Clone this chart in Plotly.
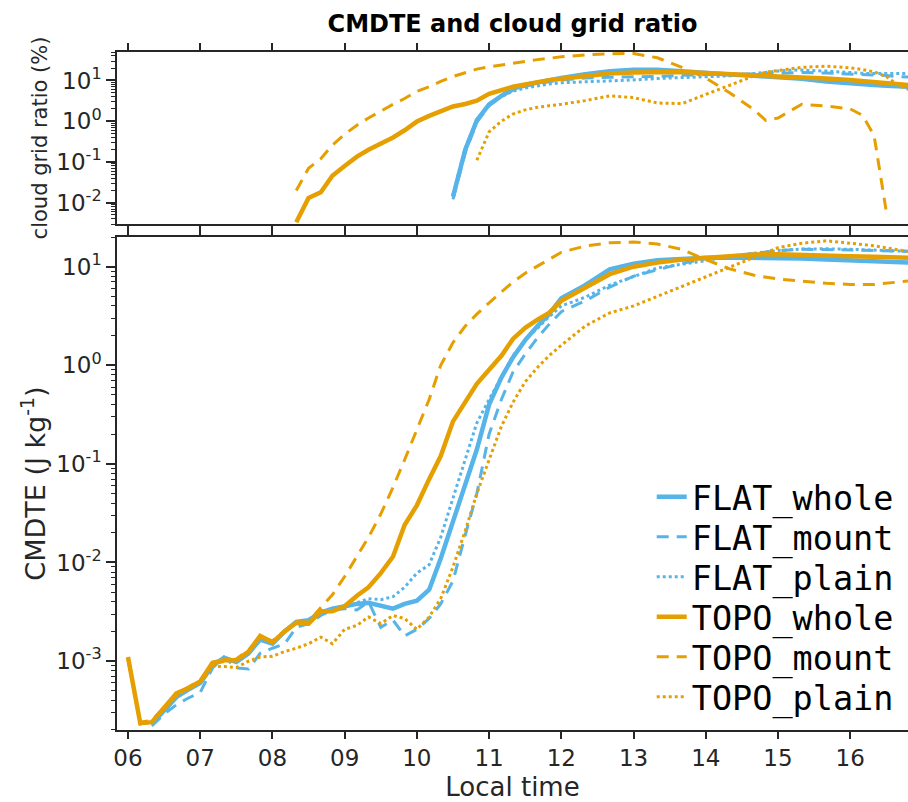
import plotly.graph_objects as go

# ---------------- data ----------------
# bottom panel: CMDTE (J kg-1)
t_bot = [6.0, 6.17, 6.33, 6.5, 6.67, 6.83, 7.0, 7.17, 7.33, 7.5, 7.67, 7.83, 8.0, 8.17, 8.33, 8.5,
         8.67, 8.83, 9.0, 9.17, 9.33, 9.5, 9.67, 9.83, 10.0, 10.17, 10.33, 10.5, 10.67, 10.83, 11.0,
         11.17, 11.33, 11.5, 11.67, 11.83, 12.0, 12.33, 12.67, 13.0, 13.33, 13.67, 14.0, 14.33, 14.67,
         15.0, 15.33, 15.67, 16.0, 16.33, 16.67, 17.0]

cmdte_flat_whole = [None, None, 2.3e-4, 3.1e-4, 4.3e-4, 5.1e-4, 6.0e-4, 9.0e-4, 1.08e-3, 9.8e-4, 1.2e-3, 1.65e-3,
                    1.5e-3, 2.0e-3, 2.5e-3, 2.6e-3, 3.1e-3, 3.4e-3, 3.6e-3, 3.8e-3, 3.9e-3, 3.6e-3, 3.4e-3, 3.8e-3,
                    4.1e-3, 5.3e-3, 0.011, 0.026, 0.062, 0.14, 0.4, 0.75, 1.2, 1.8, 2.5, 3.3, 4.8, 6.5, 9.4,
                    10.7, 11.6, 12.1, 12.3, 12.4, 12.4, 12.3, 12.1, 11.8, 11.5, 11.3, 11.1, 10.9]
cmdte_flat_mount = [None, None, 2.2e-4, 2.9e-4, 3.6e-4, 4.2e-4, 4.8e-4, 8.5e-4, 1.1e-3, 8.5e-4, 8.3e-4, 1.2e-3,
                    1.35e-3, 1.5e-3, 2.2e-3, 2.4e-3, 2.9e-3, 3.3e-3, 3.4e-3, 3.3e-3, 4.0e-3, 2.2e-3, 2.6e-3, 1.8e-3,
                    2.1e-3, 2.7e-3, 3.8e-3, 6.5e-3, 0.019, 0.05, 0.2, 0.45, 0.85, 1.3, 1.9, 2.6, 3.5, 4.5, 6.2,
                    8.0, 9.3, 10.8, 12.0, 12.8, 13.8, 14.5, 15.0, 15.0, 14.8, 14.6, 14.4, 14.2]
cmdte_flat_plain = [None, None, 2.4e-4, 3.3e-4, 4.5e-4, 5.4e-4, 6.2e-4, 9.2e-4, 1.05e-3, 1.0e-3, 1.25e-3, 1.7e-3,
                    1.6e-3, 2.0e-3, 2.45e-3, 2.5e-3, 3.2e-3, 3.3e-3, 3.5e-3, 3.9e-3, 4.3e-3, 4.2e-3, 4.5e-3, 5.6e-3,
                    7.8e-3, 9.5e-3, 0.018, 0.045, 0.11, 0.26, 0.45, 0.75, 1.25, 1.8, 2.4, 3.1, 4.0, 4.9, 6.5,
                    8.0, 9.7, 10.6, 11.5, 12.8, 13.8, 14.6, 15.1, 15.2, 15.0, 14.8, 14.5, 14.2]
cmdte_topo_whole = [1.1e-3, 2.35e-4, 2.4e-4, 3.3e-4, 4.7e-4, 5.3e-4, 6.2e-4, 9.6e-4, 1.02e-3, 1.02e-3, 1.25e-3, 1.8e-3,
                    1.55e-3, 2.0e-3, 2.45e-3, 2.4e-3, 3.2e-3, 3.2e-3, 3.6e-3, 4.6e-3, 5.6e-3, 7.8e-3, 0.0115, 0.024,
                    0.038, 0.07, 0.12, 0.27, 0.43, 0.65, 0.9, 1.25, 1.85, 2.4, 2.9, 3.4, 4.5, 6.2, 8.4,
                    10.0, 11.0, 11.8, 12.3, 12.9, 13.3, 13.4, 13.3, 13.0, 12.8, 12.6, 12.4, 12.2]
cmdte_topo_mount = [1.05e-3, 2.4e-4, 2.5e-4, 3.4e-4, 4.6e-4, 5.4e-4, 6.4e-4, 9.4e-4, 1.0e-3, 1.05e-3, 1.3e-3, 1.75e-3,
                    1.6e-3, 2.05e-3, 2.5e-3, 2.5e-3, 3.5e-3, 4.7e-3, 7.2e-3, 0.0115, 0.018, 0.031, 0.058, 0.11,
                    0.22, 0.45, 1.0, 1.7, 2.5, 3.3, 4.3, 5.5, 7.0, 8.6, 10.2, 12.0, 14.0, 16.2, 17.5,
                    17.8, 17.0, 15.0, 11.8, 9.5, 8.2, 7.5, 7.1, 6.8, 6.6, 6.6, 7.0, 7.4]
cmdte_topo_plain = [1.08e-3, 2.3e-4, 2.4e-4, 3.2e-4, 4.4e-4, 5.2e-4, 6.0e-4, 8.8e-4, 8.8e-4, 8.6e-4, 1.0e-3, 1.1e-3,
                    1.12e-3, 1.25e-3, 1.35e-3, 1.5e-3, 1.75e-3, 1.5e-3, 2.1e-3, 2.3e-3, 2.8e-3, 2.4e-3, 2.9e-3, 2.7e-3,
                    2.1e-3, 2.8e-3, 4.3e-3, 9.0e-3, 0.021, 0.05, 0.11, 0.24, 0.42, 0.68, 0.95, 1.25, 1.6, 2.5, 3.4,
                    4.0, 5.0, 6.3, 7.8, 9.8, 12.5, 15.6, 17.3, 18.3, 17.3, 16.3, 14.8, 13.5]

# top panel: cloud grid ratio (%)
t_top = [8.33, 8.5, 8.67, 8.83, 9.0, 9.17, 9.33, 9.5, 9.67, 9.83, 10.0, 10.17, 10.33, 10.5, 10.67, 10.83,
         11.0, 11.17, 11.33, 11.5, 11.67, 11.83, 12.0, 12.33, 12.67, 13.0, 13.33, 13.67, 14.0, 14.33,
         14.67, 14.83, 15.0, 15.17, 15.33, 15.67, 16.0, 16.17, 16.33, 16.5, 16.67, 17.0]

cgr_flat_whole = [None] * 13 + [0.014, 0.2, 1.05, 2.6, 4.2, 6.2, 7.8, 9.0, 10.3, 11.5, 14.3, 16.8, 18.3, 18.3,
                                16.8, 15.0, 14.0, 13.0, 12.5, 12.0, 11.5, 11.0, 9.4, 8.3, 8.0, 7.7, 7.4, 7.2, 6.8]
cgr_flat_mount = [None] * 13 + [0.012, 0.17, 0.95, 2.4, 4.0, 5.8, 7.2, 8.3, 9.3, 10.2, 11.5, 12.0, 12.2, 12.6,
                                13.4, 14.0, 14.2, 14.5, 14.8, 15.2, 15.5, 15.6, 15.2, 14.5, 14.0, 13.8, 13.2, 12.5, 11.5]
cgr_flat_plain = [None] * 13 + [0.016, 0.22, 1.1, 2.5, 4.0, 5.5, 6.5, 7.4, 8.2, 8.8, 9.2, 9.6, 10.3, 11.2,
                                11.8, 12.4, 13.0, 14.8, 16.0, 17.0, 17.9, 18.0, 17.0, 15.5, 15.0, 14.8, 14.8, 14.8, 14.8]
cgr_topo_whole = [3.3e-3, 0.013, 0.018, 0.046, 0.08, 0.135, 0.2, 0.28, 0.4, 0.6, 0.98, 1.35, 1.8, 2.3, 2.65, 3.2,
                  4.7, 5.9, 7.0, 8.0, 9.2, 10.2, 11.0, 13.0, 14.8, 15.8, 16.3, 16.2, 15.2, 14.0,
                  13.0, 12.7, 12.5, 12.2, 12.0, 11.2, 10.3, 9.8, 9.2, 8.7, 8.0, 7.2]
cgr_topo_mount = [0.02, 0.07, 0.12, 0.26, 0.48, 0.8, 1.2, 1.8, 2.6, 3.6, 5.4, 7.0, 9.5, 12.5, 15.5, 19.0,
                  21.5, 24.0, 27.0, 30.0, 32.5, 35.0, 38.0, 42.5, 45.5, 45.7, 36.0, 21.0, 11.5, 5.0,
                  1.9, 1.05, 1.2, 1.8, 2.6, 2.35, 2.0, 1.4, 0.45, 6.0e-3, None, None]
cgr_topo_plain = [None] * 15 + [0.11, 0.55, 1.0, 1.5, 1.9, 2.2, 2.4, 2.6, 3.2, 4.2, 3.8, 2.8, 2.7, 4.6, 7.5,
                                13.0, 16.0, 17.5, 19.5, 21.0, 22.4, 20.5, 18.5, 16.3, 12.5, 7.5, 4.5]

hours = list(range(6, 17))
hour_labels = ["%02d" % h for h in hours]

# ---------------- style ----------------
BLUE = "#56B4E9"
ORANGE = "#E69F00"
series = [
    ("FLAT_whole", BLUE, "solid", 4.5, cmdte_flat_whole, cgr_flat_whole),
    ("FLAT_mount", BLUE, "12px,8px", 3, cmdte_flat_mount, cgr_flat_mount),
    ("FLAT_plain", BLUE, "3px,3px", 3, cmdte_flat_plain, cgr_flat_plain),
    ("TOPO_whole", ORANGE, "solid", 4.5, cmdte_topo_whole, cgr_topo_whole),
    ("TOPO_mount", ORANGE, "12px,8px", 3, cmdte_topo_mount, cgr_topo_mount),
    ("TOPO_plain", ORANGE, "3px,3px", 3, cmdte_topo_plain, cgr_topo_plain),
]

fig = go.Figure()
legend_ids = ["legend", "legend2", "legend3", "legend4", "legend5", "legend6"]
for i, (name, col, dash, lw, ybot, ytop) in enumerate(series):
    fig.add_trace(go.Scatter(x=t_bot, y=ybot, mode="lines", name=name, legend=legend_ids[i],
                             line=dict(color=col, dash=dash, width=lw),
                             xaxis="x", yaxis="y", connectgaps=False))
for name, col, dash, lw, ybot, ytop in series:
    fig.add_trace(go.Scatter(x=t_top, y=ytop, mode="lines", name=name, showlegend=False,
                             line=dict(color=col, dash=dash, width=lw),
                             xaxis="x2", yaxis="y2", connectgaps=False))

AX = "#262626"
TICKFONT = dict(family="DejaVu Sans", size=23, color=AX)
xcommon = dict(range=[5.848, 16.80], tickvals=hours, ticktext=hour_labels, ticks="outside",
               ticklen=7, tickwidth=1.5, tickcolor=AX, showline=True, linecolor=AX, linewidth=1.5,
               mirror="ticks", showgrid=False, zeroline=False)
minor = dict(ticks="outside", ticklen=4, tickwidth=1, tickcolor=AX, showgrid=False, dtick="D1")

# legend layout: one single-entry legend per row, rows evenly spaced
plot_top, plot_bot = 52, 730
row_px = [497, 537, 577, 617, 657, 697]
legends = {}
for lid, py in zip(legend_ids, row_px):
    legends[lid] = dict(x=0.676, xanchor="left", y=(plot_bot - py) / (plot_bot - plot_top),
                        yanchor="middle", yref="paper", bgcolor="rgba(0,0,0,0)", borderwidth=0,
                        font=dict(family="DejaVu Sans Mono", size=33.5, color="black"))

fig.update_layout(
    width=908, height=802,
    margin=dict(l=117, r=0, t=52, b=72),
    paper_bgcolor="white", plot_bgcolor="white",
    title=dict(text="<b>CMDTE and cloud grid ratio</b>", x=0.5, xref="paper", xanchor="center",
               y=1 - 24 / 802, yref="container", yanchor="middle",
               font=dict(family="DejaVu Sans", size=24, color="black")),
    xaxis=dict(domain=[0, 1], anchor="y", tickfont=TICKFONT, automargin=False,
               title=dict(text="Local time", standoff=14,
                          font=dict(family="DejaVu Sans", size=26, color=AX)), **xcommon),
    xaxis2=dict(domain=[0, 1], anchor="y2", matches="x", showticklabels=False, **xcommon),
    yaxis=dict(domain=[0, 0.7271], type="log", range=[-3.699, 1.301],
               tickvals=[1e-3, 1e-2, 1e-1, 1, 10],
               ticktext=["10<sup>-3</sup>", "10<sup>-2</sup>", "10<sup>-1</sup>", "10<sup>0</sup>", "10<sup>1</sup>"],
               ticks="outside", ticklen=9, tickwidth=1.5, tickcolor=AX, minor=minor,
               showline=True, linecolor=AX, linewidth=1.5, showgrid=False, zeroline=False,
               tickfont=TICKFONT,
               title=dict(text="CMDTE (J kg<sup>-1</sup>)", standoff=3,
                          font=dict(family="DejaVu Sans", size=27, color=AX))),
    yaxis2=dict(domain=[0.7463, 1], type="log", range=[-2.523, 1.699],
                tickvals=[1e-2, 1e-1, 1, 10],
                ticktext=["10<sup>-2</sup>", "10<sup>-1</sup>", "10<sup>0</sup>", "10<sup>1</sup>"],
                ticks="outside", ticklen=9, tickwidth=1.5, tickcolor=AX, minor=minor,
                showline=True, linecolor=AX, linewidth=1.5, showgrid=False, zeroline=False,
                tickfont=TICKFONT,
                title=dict(text="cloud grid ratio (%)", standoff=3,
                           font=dict(family="DejaVu Sans", size=21, color=AX))),
    showlegend=True,
    **legends,
)

fig.write_html("out.html")
